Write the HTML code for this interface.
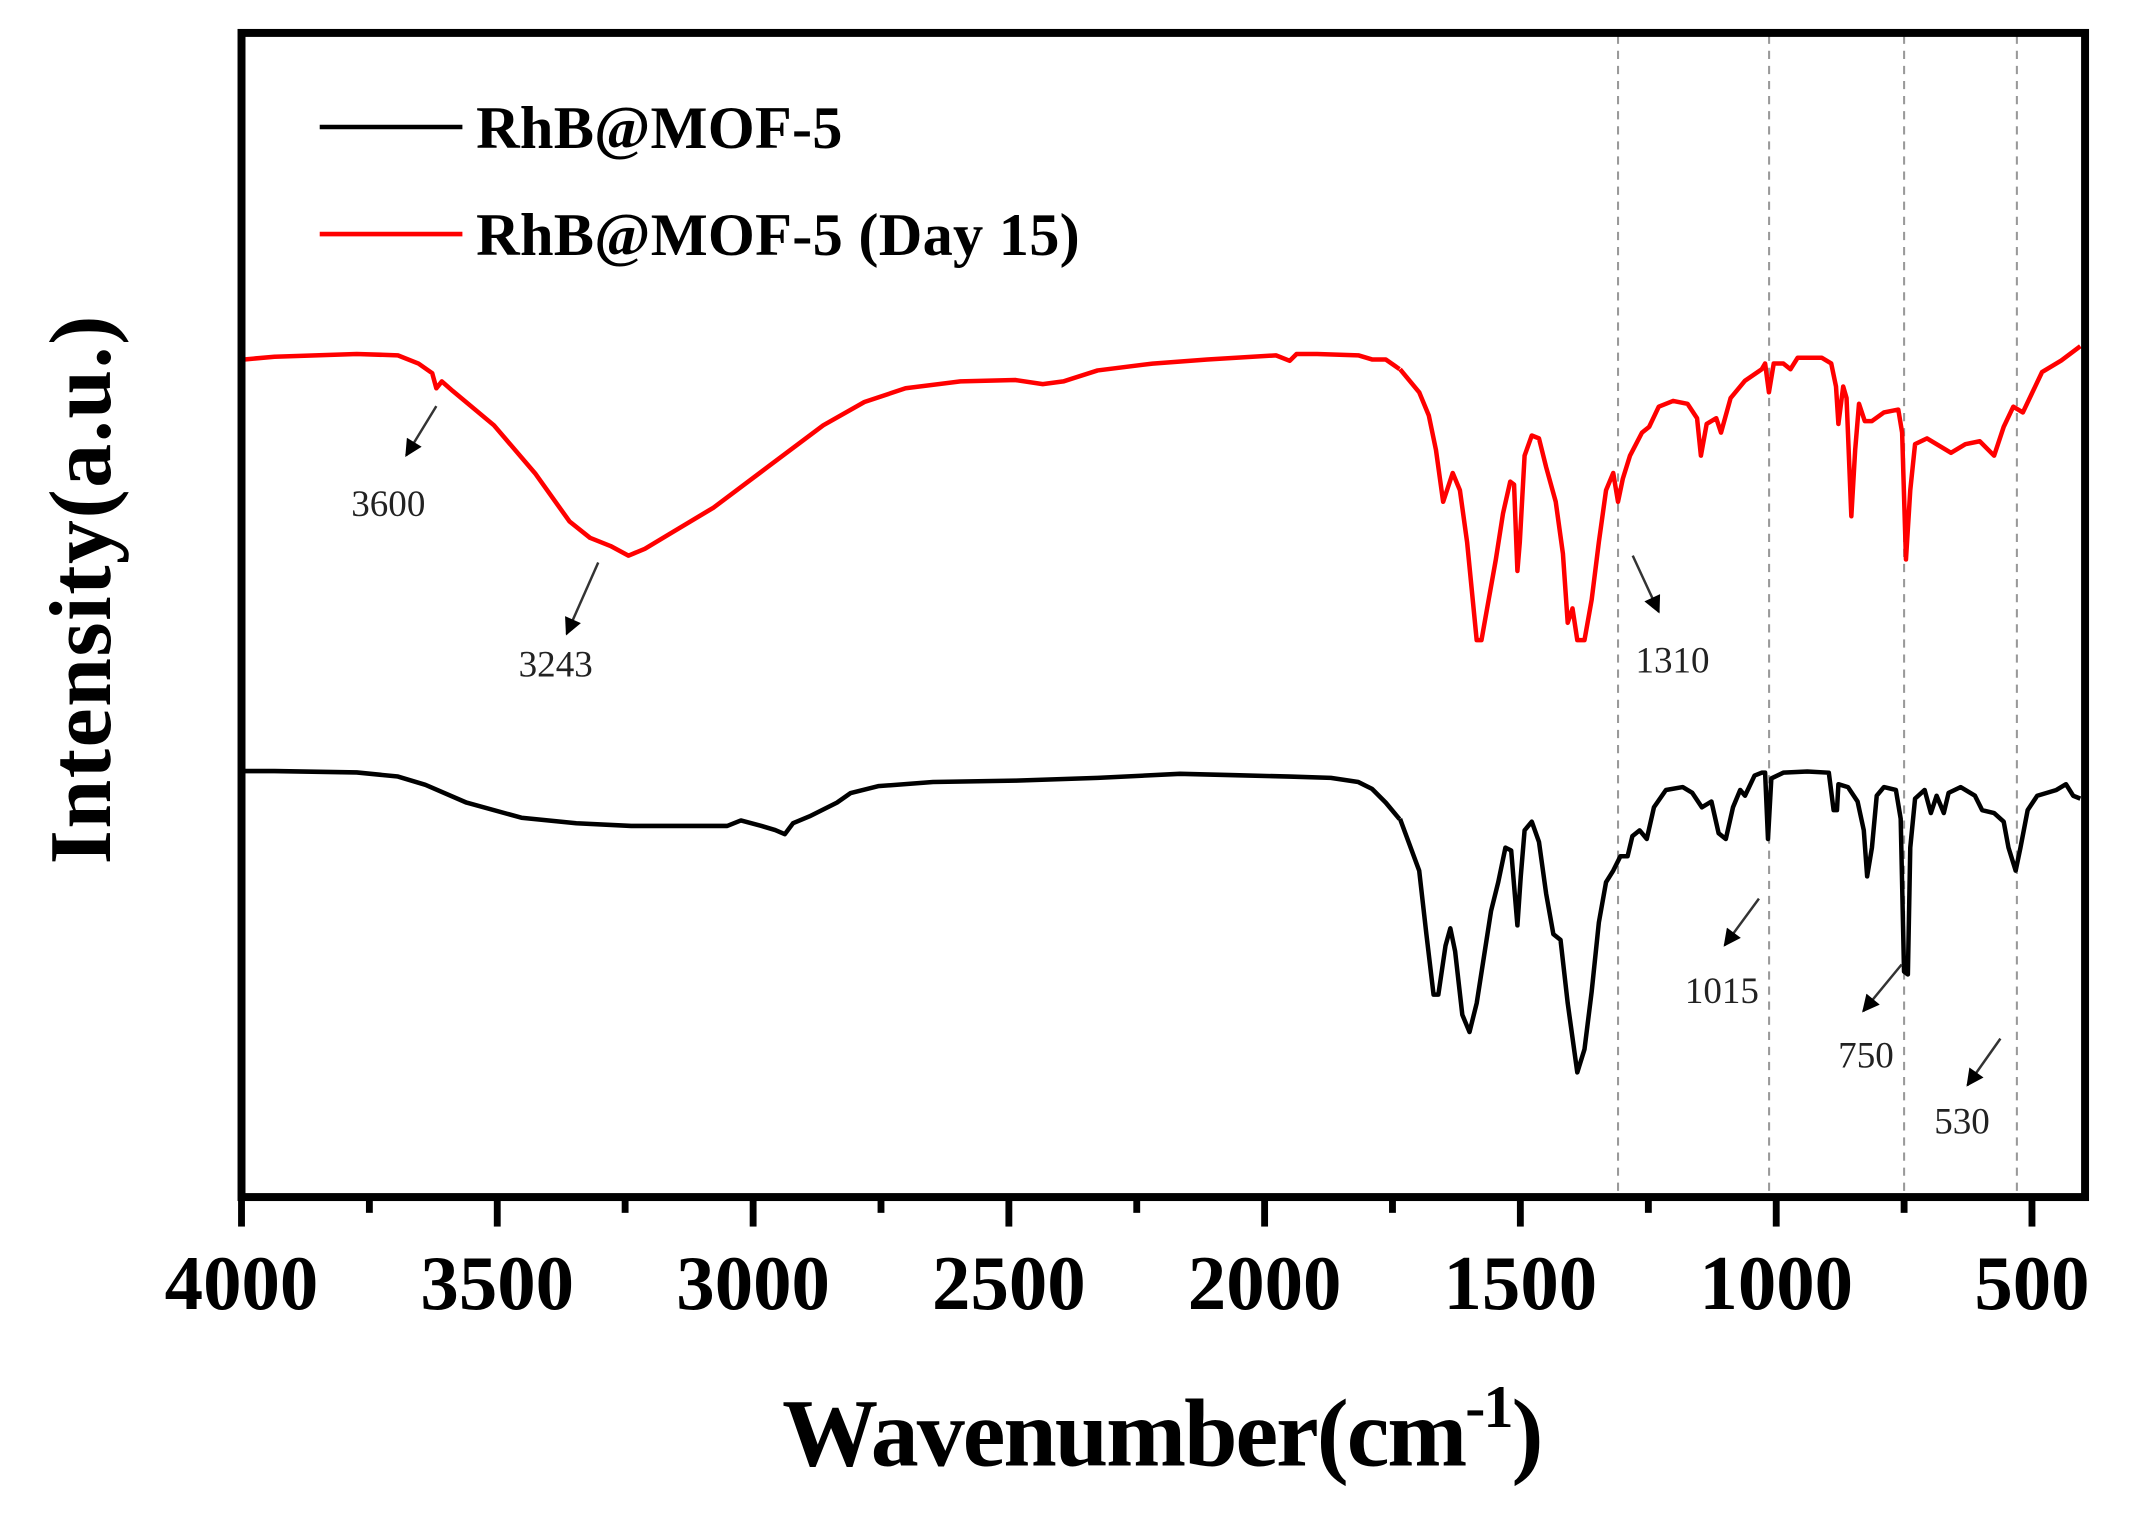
<!DOCTYPE html>
<html><head><meta charset="utf-8"><style>html,body{margin:0;padding:0;background:#fff}svg{display:block}</style></head>
<body>
<svg width="2150" height="1514" viewBox="0 0 1567 1103.5" xmlns="http://www.w3.org/2000/svg" font-family="'Liberation Serif', serif">
<defs>
<marker id="ah" viewBox="0 0 10 10" refX="9" refY="5" markerWidth="9" markerHeight="7" orient="auto" markerUnits="strokeWidth">
<path d="M0,0 L10,5 L0,10 z" fill="#000"/></marker>
</defs>
<rect width="1567" height="1103.5" fill="#fff"/>
<g stroke="#999" stroke-width="1.5" stroke-dasharray="6 5">
<line x1="1179.3" y1="26" x2="1179.3" y2="870"/>
<line x1="1289.4" y1="26" x2="1289.4" y2="870"/>
<line x1="1387.8" y1="26" x2="1387.8" y2="870"/>
<line x1="1470" y1="26" x2="1470" y2="870"/>
</g>
<g fill="none" stroke="#ff0000" stroke-width="3.3" stroke-linejoin="round">
<polyline points="178,262 200,260 260,258 290,259 305,265 315,272 318,283 322,278 330,285 360,310 390,345 415,380 430,392 445,398 458,405 470,400 490,388 520,370 560,340 600,310 630,293 660,283 700,278 740,277 760,280 775,278 800,270 840,265 880,262 930,259 940,263 945,258 960,258 990,259 1000,262 1010,262 1020,269"/>
<g transform="translate(1020.4,218.7) scale(0.3492,0.4201)">
<polyline vector-effect="non-scaling-stroke" stroke-width="4.5" points="0,120 40,160 60,200 75,260 90,350 110,300 125,330 140,420 160,590 170,590 185,520 200,450 215,370 230,315 238,320 245,470 250,420 260,270 275,235 290,240 305,290 325,350 340,440 350,560 360,535 370,590 385,590 400,520 415,420 430,330 445,300 455,350 465,310 480,270 505,230 520,220 540,185 570,175 600,180 620,205 628,270 640,215 660,205 670,230 690,170 720,140 755,120 762,110 770,160 780,110 800,110 815,120 830,100 880,100 900,110 910,150 915,215 925,150 932,170 942,375 950,260 958,180 970,210 985,210 1010,195 1040,190 1048,230 1056,450 1065,330 1075,250 1100,240 1150,265 1180,250 1210,245 1240,270 1260,220 1280,185 1300,195 1320,160 1340,125 1380,105 1420,80"/>
</g>
</g>
<g fill="none" stroke="#000" stroke-width="3.3" stroke-linejoin="round">
<polyline points="178,562 200,562 260,563 290,566 310,572 340,585 380,596 420,600 460,602 500,602 530,602 540,598 555,602 565,605 572,608 578,600 590,595 600,590 610,585 620,578 640,573 680,570 740,569 800,567 860,564 900,565 940,566 970,567 990,570 1000,575 1010,585 1020,597"/>
<g transform="translate(1020.4,218.7) scale(0.3492,0.4201)">
<polyline vector-effect="non-scaling-stroke" stroke-width="4.5" points="0,900 40,990 55,1100 70,1205 80,1205 95,1120 105,1090 115,1130 130,1240 145,1270 160,1220 175,1140 190,1060 205,1010 220,950 232,955 245,1085 252,1000 260,920 275,905 290,940 305,1030 320,1100 335,1110 350,1220 370,1340 385,1300 400,1200 415,1080 430,1010 445,990 460,965 475,965 485,930 500,920 515,935 530,880 555,850 590,845 610,855 630,880 650,870 665,925 680,935 695,880 710,850 720,860 740,825 755,820 762,820 768,935 775,830 800,820 850,818 895,820 905,885 912,885 915,840 935,845 955,870 968,920 975,1000 985,950 995,860 1010,845 1035,850 1045,900 1052,1165 1060,1170 1065,950 1075,865 1095,850 1108,890 1120,860 1135,890 1145,855 1170,845 1200,860 1215,885 1240,890 1260,905 1270,950 1285,990 1295,950 1310,885 1330,860 1370,850 1390,840 1405,860 1420,865"/>
</g>
</g>
<rect x="176" y="24" width="1343.7" height="848.5" fill="none" stroke="#000" stroke-width="5.8"/>
<g stroke="#000" stroke-width="5">
<line x1="176" y1="872" x2="176" y2="894"/><line x1="362.4" y1="872" x2="362.4" y2="894"/><line x1="548.9" y1="872" x2="548.9" y2="894"/><line x1="735.3" y1="872" x2="735.3" y2="894"/><line x1="921.7" y1="872" x2="921.7" y2="894"/><line x1="1108.1" y1="872" x2="1108.1" y2="894"/><line x1="1294.6" y1="872" x2="1294.6" y2="894"/><line x1="1481" y1="872" x2="1481" y2="894"/>
<line x1="269.2" y1="872" x2="269.2" y2="884"/><line x1="455.6" y1="872" x2="455.6" y2="884"/><line x1="642.1" y1="872" x2="642.1" y2="884"/><line x1="828.5" y1="872" x2="828.5" y2="884"/><line x1="1014.9" y1="872" x2="1014.9" y2="884"/><line x1="1201.4" y1="872" x2="1201.4" y2="884"/><line x1="1387.8" y1="872" x2="1387.8" y2="884"/>
</g>
<g font-size="56" font-weight="bold" text-anchor="middle" fill="#000">
<text x="176" y="954">4000</text><text x="362.4" y="954">3500</text><text x="548.9" y="954">3000</text><text x="735.3" y="954">2500</text><text x="921.7" y="954">2000</text><text x="1108.1" y="954">1500</text><text x="1294.6" y="954">1000</text><text x="1481" y="954">500</text>
</g>
<text x="570" y="1068" font-size="70" font-weight="bold" textLength="555">Wavenumber(cm<tspan font-size="44" dy="-28">-1</tspan><tspan dy="28">)</tspan></text>
<text transform="translate(80,430) rotate(-90)" text-anchor="middle" font-size="64" font-weight="bold" textLength="400">Intensity(a.u.)</text>
<line x1="233" y1="92.6" x2="337" y2="92.6" stroke="#000" stroke-width="3.3"/>
<line x1="233" y1="170.6" x2="337" y2="170.6" stroke="#ff0000" stroke-width="3.3"/>
<text x="347" y="108" font-size="44" font-weight="bold" textLength="267">RhB@MOF-5</text>
<text x="347" y="186" font-size="44" font-weight="bold" textLength="440">RhB@MOF-5 (Day 15)</text>
<g stroke="#333" fill="none" marker-end="url(#ah)" stroke-width="1.8">
<line x1="318" y1="296" x2="296" y2="332"/>
<line x1="436" y1="410" x2="413" y2="462"/>
<line x1="1190" y1="405" x2="1209" y2="446"/>
<line x1="1282" y1="655" x2="1257" y2="689"/>
<line x1="1386" y1="703" x2="1358" y2="737"/>
<line x1="1458" y1="757" x2="1434" y2="791"/>
</g>
<g font-size="27" fill="#222" text-anchor="middle">
<text x="283" y="376">3600</text>
<text x="405" y="493">3243</text>
<text x="1219" y="490">1310</text>
<text x="1255" y="731">1015</text>
<text x="1360" y="778">750</text>
<text x="1430" y="826">530</text>
</g>
</svg>
</body></html>
